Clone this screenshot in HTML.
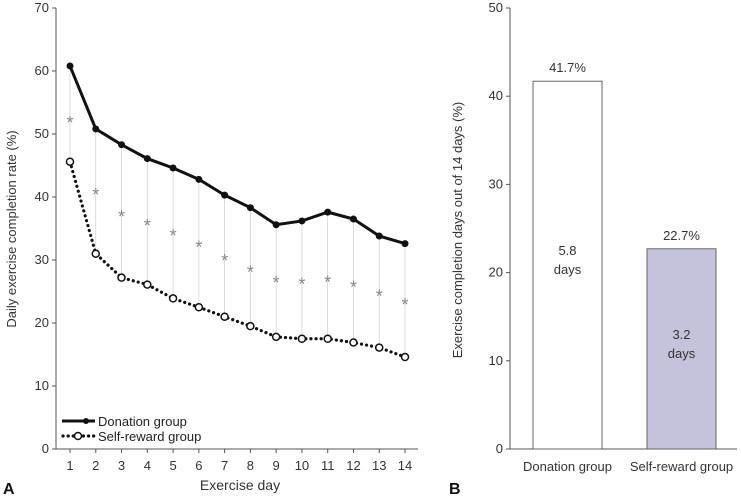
<!DOCTYPE html>
<html><head><meta charset="utf-8"><style>
body{margin:0;background:#fff;}
svg{display:block;font-family:"Liberation Sans Narrow","Liberation Sans",sans-serif;}
</style></head><body>
<svg id="c" width="741" height="497" viewBox="0 0 741 497"></svg>
<script>
const days=[1,2,3,4,5,6,7,8,9,10,11,12,13,14];
const donation=[60.8,50.8,48.3,46.1,44.6,42.8,40.3,38.3,35.6,36.2,37.6,36.5,33.8,32.6];
const selfReward=[45.6,31.0,27.2,26.1,23.9,22.5,21.0,19.5,17.8,17.5,17.5,16.9,16.1,14.6];
const sigMarks=[52.2,40.8,37.3,35.9,34.3,32.5,30.3,28.5,26.8,26.6,26.9,26.1,24.7,23.3];
const leftTicks=[0,10,20,30,40,50,60,70];
const barGroups=["Donation group","Self-reward group"];
const barValues=[41.7,22.7];
const barLabels=["41.7%","22.7%"];
const barDays=["5.8","3.2"];
const rightTicks=[0,10,20,30,40,50];

const NS="http://www.w3.org/2000/svg";
const svg=document.getElementById('c');
function mk(t,a,txt,p){const e=document.createElementNS(NS,t);for(const k in a)e.setAttribute(k,a[k]);if(txt!=null)e.textContent=txt;(p||svg).appendChild(e);return e;}

const xL=d=>70+(d-1)*(405-70)/13;
const yL=v=>449-v*(449-8)/70;
const gA=mk('g',{});


let e=mk('line',{x1:56,y1:8,x2:56,y2:449,stroke:'#555','stroke-width':1},null,gA);

e=mk('line',{x1:56,y1:449,x2:418,y2:449,stroke:'#555','stroke-width':1},null,gA);

leftTicks.forEach(t=>{
 mk('line',{x1:52,y1:yL(t),x2:56,y2:yL(t),stroke:'#555'},null,gA);
 e=mk('text',{x:49,y:yL(t)+4,'text-anchor':'end','font-size':13,fill:'#333'},t,gA);
 
});
days.forEach((d,i)=>{
 mk('line',{x1:xL(d),y1:449,x2:xL(d),y2:453,stroke:'#555'},null,gA);
 e=mk('text',{x:xL(d),y:470,'text-anchor':'middle','font-size':13,fill:'#333'},d,gA);
 
 e=mk('line',{x1:xL(d),y1:yL(donation[i]),x2:xL(d),y2:yL(selfReward[i]),stroke:'#ccc','stroke-width':0.7},null,gA);
 
 e=mk('text',{x:xL(d),y:yL(sigMarks[i])+9,'text-anchor':'middle','font-size':18,fill:'#888'},'*',gA);
 
});
e=mk('polyline',{points:days.map((d,i)=>xL(d)+','+yL(selfReward[i])).join(' '),fill:'none',stroke:'#111','stroke-width':3.2,'stroke-dasharray':'0.1 5','stroke-linecap':'round'},null,gA);

e=mk('polyline',{points:days.map((d,i)=>xL(d)+','+yL(donation[i])).join(' '),fill:'none',stroke:'#111','stroke-width':3},null,gA);

days.forEach((d,i)=>{
 e=mk('circle',{cx:xL(d),cy:yL(donation[i]),r:3.5,fill:'#111'},null,gA);
 
 e=mk('circle',{cx:xL(d),cy:yL(selfReward[i]),r:3.5,fill:'#fff',stroke:'#111','stroke-width':1.5},null,gA);
 
});
const lg=mk('g',{},null,gA);

mk('line',{x1:62,y1:421,x2:95,y2:421,stroke:'#111','stroke-width':3},null,lg);
mk('circle',{cx:86,cy:421,r:3,fill:'#111'},null,lg);
mk('text',{x:98,y:426,'font-size':13,fill:'#222'},'Donation group',lg);
mk('line',{x1:63,y1:436,x2:95,y2:436,stroke:'#111','stroke-width':3.2,'stroke-dasharray':'0.1 5','stroke-linecap':'round'},null,lg);
mk('circle',{cx:78,cy:436,r:3.5,fill:'#fff',stroke:'#111','stroke-width':1.5},null,lg);
mk('text',{x:98,y:441,'font-size':13,fill:'#222'},'Self-reward group',lg);
e=mk('text',{x:240,y:490,'text-anchor':'middle','font-size':14,fill:'#333'},'Exercise day',gA);

e=mk('text',{x:0,y:0,transform:'translate(16,229) rotate(-90)','text-anchor':'middle','font-size':13,fill:'#333'},'Daily exercise completion rate (%)',gA);

e=mk('text',{x:3,y:494,'font-size':16,'font-weight':'bold',fill:'#111','font-family':'Liberation Sans,sans-serif'},'A',gA);


const yR=v=>449-v*(449-8)/50;
const barX=[533,647], barW=69;
const gB=mk('g',{});

e=mk('line',{x1:510,y1:8,x2:510,y2:449,stroke:'#555'},null,gB);

e=mk('line',{x1:510,y1:449,x2:737,y2:449,stroke:'#555'},null,gB);

rightTicks.forEach(t=>{
 mk('line',{x1:506,y1:yR(t),x2:510,y2:yR(t),stroke:'#555'},null,gB);
 e=mk('text',{x:503,y:yR(t)+4,'text-anchor':'end','font-size':13,fill:'#333'},t,gB);
 
});
barGroups.forEach((g,i)=>{
 const cx=barX[i]+barW/2;
 e=mk('rect',{x:barX[i],y:yR(barValues[i]),width:barW,height:449-yR(barValues[i]),fill:i?'#c5c3dc':'#fff',stroke:'#666','stroke-width':1},null,gB);
 
 e=mk('text',{x:cx,y:yR(barValues[i])-9,'text-anchor':'middle','font-size':13,fill:'#333'},barLabels[i],gB);
 
 const my=yR(barValues[i]/2);
 e=mk('text',{x:cx,y:my-10,'text-anchor':'middle','font-size':13,fill:'#333'},barDays[i],gB);
 
 mk('text',{x:cx,y:my+9,'text-anchor':'middle','font-size':13,fill:'#333'},'days',gB);
 e=mk('text',{x:cx,y:471,'text-anchor':'middle','font-size':13,fill:'#333'},g,gB);
 
});
e=mk('text',{x:0,y:0,transform:'translate(462,230) rotate(-90)','text-anchor':'middle','font-size':13,fill:'#333'},'Exercise completion days out of 14 days (%)',gB);

e=mk('text',{x:449,y:494,'font-size':16,'font-weight':'bold',fill:'#111','font-family':'Liberation Sans,sans-serif'},'B',gB);

</script>
</body></html>
